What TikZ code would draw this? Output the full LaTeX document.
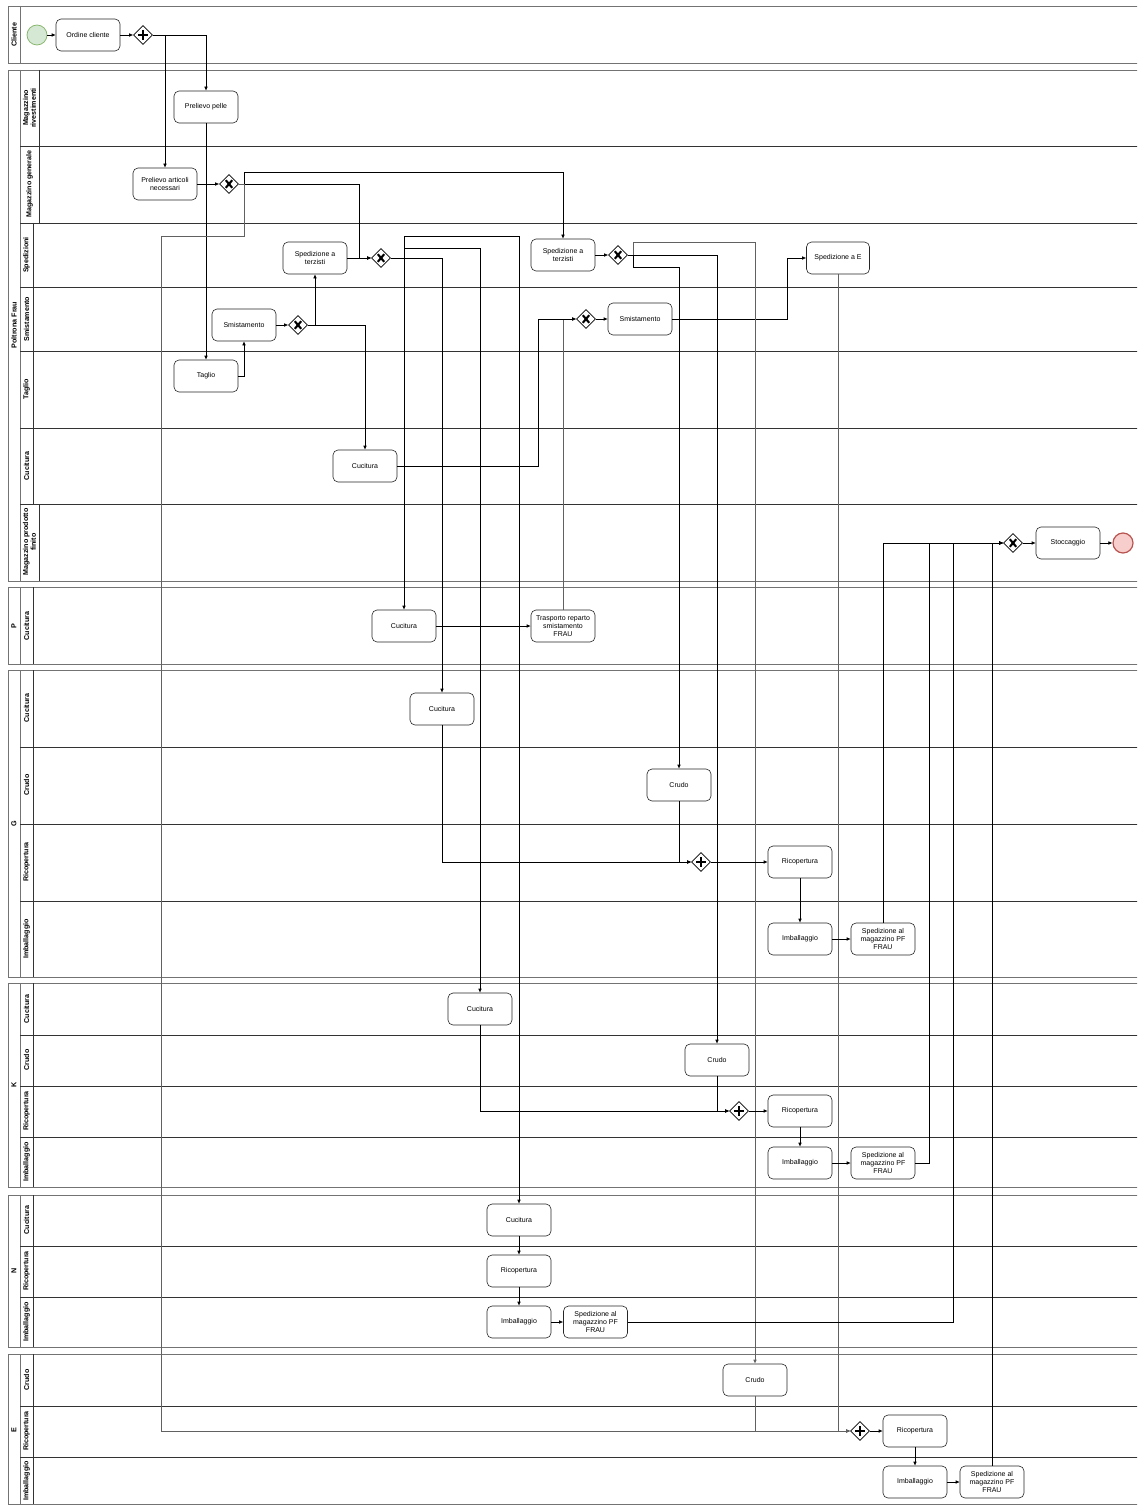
\documentclass[tikz,border=0pt]{standalone}
\usepackage{fontspec}
\setmainfont{Liberation Sans}
\usetikzlibrary{shapes.geometric,arrows.meta}
\begin{document}
\begin{tikzpicture}[x=1pt,y=-1pt,
  pool/.style={draw=black!55,line width=0.9pt},
  lane/.style={draw=black!80,line width=0.7pt},
  poollbl/.style={rotate=90,font=\bfseries\fontsize{7.2}{8}\selectfont,align=center},
  lanelbl/.style={rotate=90,font=\bfseries\fontsize{7.1}{7.8}\selectfont,align=center},
  task/.style={draw=black!85,rounded corners=5pt,minimum width=64pt,minimum height=32pt,align=center,inner sep=1pt,font=\fontsize{7}{8}\selectfont,line width=0.6pt,fill=white},
  gw/.style={draw,diamond,minimum width=19pt,minimum height=19pt,inner sep=0pt,line width=0.6pt,fill=white},
  flow/.style={-{Latex[length=4pt,width=3.6pt]},line width=0.6pt},
  gflow/.style={flow,draw=black!62,line width=0.7pt},
  xmark/.pic={\draw[line width=2.1pt] (-3.2,-3.8)--(3.2,3.8) (-3.2,3.8)--(3.2,-3.8);},
  pmark/.pic={\draw[line width=2.3pt] (0,-5)--(0,5) (-5,0)--(5,0);}
]
\useasboundingbox (0,0) rectangle (1137,1506);
\fill[white] (0,0) rectangle (1137,1506);
\clip (0,0) rectangle (1137,1506);

% ---------------- pools and lanes ----------------
% Cliente
\draw[pool] (8,6) rectangle (1150,63);
\draw[pool] (20,6)--(20,63);
\node[poollbl] (plCliente) at (14,35) {Cliente};

% Poltrona Frau
\draw[pool] (8,70) rectangle (1150,581);
\draw[pool] (20,70)--(20,581);
\node[poollbl] (plFrau) at (14,325) {Poltrona Frau};
\foreach \yy in {146,223,287,351,428,504} \draw[lane] (20,\yy)--(1150,\yy);
\draw[lane] (39,70)--(39,223);
\draw[lane] (33,223)--(33,504);
\draw[lane] (39,504)--(39,581);
\node[lanelbl] (l1) at (29.5,108) {Magazzino\\rivestimenti};
\node[lanelbl] (l2) at (29.5,184) {Magazzino generale};
\node[lanelbl] (l3) at (26.5,255) {Spedizioni};
\node[lanelbl] (l4) at (26.5,319) {Smistamento};
\node[lanelbl] (l5) at (26.5,389) {Taglio};
\node[lanelbl] (l6) at (26.5,466) {Cucitura};
\node[lanelbl] (l7) at (29.5,542) {Magazzino prodotto\\finito};

% P
\draw[pool] (8,587) rectangle (1150,664);
\draw[pool] (20,587)--(20,664);
\draw[lane] (33,587)--(33,664);
\node[poollbl] (plP) at (14,626) {P};
\node[lanelbl] (lp1) at (26.5,626) {Cucitura};

% G
\draw[pool] (8,670) rectangle (1150,977);
\draw[pool] (20,670)--(20,977);
\foreach \yy in {747,824,901} \draw[lane] (20,\yy)--(1150,\yy);
\draw[lane] (33,670)--(33,977);
\node[poollbl] (plG) at (14,824) {G};
\node[lanelbl] (lg1) at (26.5,708) {Cucitura};
\node[lanelbl] (lg2) at (26.5,785) {Crudo};
\node[lanelbl] (lg3) at (26.5,862) {Ricopertura};
\node[lanelbl] (lg4) at (26.5,939) {Imballaggio};

% K
\draw[pool] (8,983) rectangle (1150,1187);
\draw[pool] (20,983)--(20,1187);
\foreach \yy in {1035,1086,1137} \draw[lane] (20,\yy)--(1150,\yy);
\draw[lane] (33,983)--(33,1187);
\node[poollbl] (plK) at (14,1085) {K};
\node[lanelbl] (lk1) at (26.5,1009) {Cucitura};
\node[lanelbl] (lk2) at (26.5,1060) {Crudo};
\node[lanelbl] (lk3) at (26.5,1111) {Ricopertura};
\node[lanelbl] (lk4) at (26.5,1162) {Imballaggio};

% N
\draw[pool] (8,1195) rectangle (1150,1347);
\draw[pool] (20,1195)--(20,1347);
\foreach \yy in {1246,1297} \draw[lane] (20,\yy)--(1150,\yy);
\draw[lane] (33,1195)--(33,1347);
\node[poollbl] (plN) at (14,1271) {N};
\node[lanelbl] (ln1) at (26.5,1220) {Cucitura};
\node[lanelbl] (ln2) at (26.5,1271) {Ricopertura};
\node[lanelbl] (ln3) at (26.5,1322) {Imballaggio};

% E
\draw[pool] (8,1354) rectangle (1150,1504);
\draw[pool] (20,1354)--(20,1504);
\foreach \yy in {1406,1457} \draw[lane] (20,\yy)--(1150,\yy);
\draw[lane] (33,1354)--(33,1504);
\node[poollbl] (plE) at (14,1430) {E};
\node[lanelbl] (le1) at (26.5,1380) {Crudo};
\node[lanelbl] (le2) at (26.5,1431) {Ricopertura};
\node[lanelbl] (le3) at (26.5,1481) {Imballaggio};

% ---------------- nodes ----------------
\node[circle,draw={rgb,255:red,130;green,179;blue,102},fill={rgb,255:red,213;green,232;blue,212},minimum size=20pt,inner sep=0pt,line width=0.7pt] (st) at (37,35) {};
\node[task] (oc) at (88,35) {Ordine cliente};
\node[gw] (gwA) at (143,35) {}; \pic at (gwA) {pmark};
\node[task] (pp) at (206,107) {Prelievo pelle};
\node[task] (pa) at (165,184) {Prelievo articoli\\necessari};
\node[gw] (gw1) at (229,184) {}; \pic at (gw1) {xmark};
\node[task] (st1) at (315,258) {Spedizione a\\terzisti};
\node[gw] (gw2) at (381,258) {}; \pic at (gw2) {xmark};
\node[task] (sm1) at (244,325) {Smistamento};
\node[gw] (gw3) at (298,325) {}; \pic at (gw3) {xmark};
\node[task] (tg) at (206,376) {Taglio};
\node[task] (cf) at (365,466) {Cucitura};
\node[task] (st2) at (563,255) {Spedizione a\\terzisti};
\node[gw] (gw4) at (618,255) {}; \pic at (gw4) {xmark};
\node[gw] (gw5) at (586,319) {}; \pic at (gw5) {xmark};
\node[task] (sm2) at (640,319) {Smistamento};
\node[task,minimum width=63pt] (se) at (838,258) {Spedizione a E};
\node[gw] (gw6) at (1013,543) {}; \pic at (gw6) {xmark};
\node[task] (sto) at (1068,543) {Stoccaggio};
\node[circle,draw={rgb,255:red,184;green,84;blue,80},fill={rgb,255:red,248;green,206;blue,204},minimum size=20pt,inner sep=0pt,line width=1.2pt] (en) at (1123,543) {};

\node[task] (pc) at (404,626) {Cucitura};
\node[task] (tr) at (563,626) {Trasporto reparto\\smistamento\\FRAU};

\node[task] (gc) at (442,709) {Cucitura};
\node[task] (gcr) at (679,785) {Crudo};
\node[gw] (gwG) at (701,862) {}; \pic at (gwG) {pmark};
\node[task] (gr) at (800,862) {Ricopertura};
\node[task] (gi) at (800,939) {Imballaggio};
\node[task] (gs) at (883,939) {Spedizione al\\magazzino PF\\FRAU};

\node[task] (kc) at (480,1009) {Cucitura};
\node[task] (kcr) at (717,1060) {Crudo};
\node[gw] (gwK) at (739,1111) {}; \pic at (gwK) {pmark};
\node[task] (kr) at (800,1111) {Ricopertura};
\node[task] (ki) at (800,1163) {Imballaggio};
\node[task] (ks) at (883,1163) {Spedizione al\\magazzino PF\\FRAU};

\node[task] (nc) at (519,1220) {Cucitura};
\node[task] (nr) at (519,1271) {Ricopertura};
\node[task] (ni) at (519,1322) {Imballaggio};
\node[task] (ns) at (595.5,1322) {Spedizione al\\magazzino PF\\FRAU};

\node[task] (ec) at (755,1380) {Crudo};
\node[gw] (gwE) at (860,1431) {}; \pic at (gwE) {pmark};
\node[task] (er) at (915,1431) {Ricopertura};
\node[task] (ei) at (915,1482) {Imballaggio};
\node[task] (es) at (992,1482) {Spedizione al\\magazzino PF\\FRAU};

% ---------------- connectors ----------------
\draw[flow] (st.east) -- (oc.west);
\draw[flow] (oc.east) -- (gwA.west);
\draw[flow] (gwA.east) -| (pp.north);
\draw[flow] (gwA.east) -| (pa.north);
\draw[flow] (pp.south) -- (tg.north);
\draw[flow] (tg.east) -| (sm1.south);
\draw[flow] (sm1.east) -- (gw3.west);
\draw[flow] (gw3.east) -| (st1.south);
\draw[flow] (gw3.east) -| (cf.north);
\draw[flow] (st1.east) -- (gw2.west);
\draw[flow] (pa.east) -- (gw1.west);
\draw[flow] (gw1.east) -| (359,258) -- (gw2.west);
\draw[flow] (gw1.east) -- (244,184) -- (244,172) -| (st2.north);
\draw[gflow] (gw1.east) -- (244,184) -- (244,236) -- (161,236) |- (gwE.west);
\draw[flow] (gw2.east) -- (404,258) -- (pc.north);
\draw[flow] (gw2.east) -- (404,258) -- (404,236) -| (nc.north);
\draw[flow] (gw2.east) -- (404,258) -- (404,248) -| (kc.north);
\draw[flow] (gw2.east) -| (gc.north);
\draw[flow] (pc.east) -- (tr.west);
\draw[gflow] (tr.north) |- (gw5.west);
\draw[flow] (cf.east) -- (538,466) |- (gw5.west);
\draw[flow] (gw5.east) -- (sm2.west);
\draw[flow] (sm2.east) -- (787,319) |- (se.west);
\draw[flow] (st2.east) -- (gw4.west);
\draw[gflow] (gw4.east) -- (633,255) -- (633,242) -| (ec.north);
\draw[flow] (gw4.east) -| (kcr.north);
\draw[flow] (gw4.east) -- (633,255) -- (633,267) -| (gcr.north);
\draw[gflow] (se.south) |- (gwE.west);
\draw[gflow] (ec.south) |- (gwE.west);
% G
\draw[flow] (gc.south) |- (gwG.west);
\draw[flow] (gcr.south) |- (gwG.west);
\draw[flow] (gwG.east) -- (gr.west);
\draw[flow] (gr.south) -- (gi.north);
\draw[flow] (gi.east) -- (gs.west);
\draw[flow] (gs.north) |- (gw6.west);
% K
\draw[flow] (kc.south) |- (gwK.west);
\draw[flow] (kcr.south) |- (gwK.west);
\draw[flow] (gwK.east) -- (kr.west);
\draw[flow] (kr.south) -- (ki.north);
\draw[flow] (ki.east) -- (ks.west);
\draw[flow] (ks.east) -- (929,1163) |- (gw6.west);
% N
\draw[flow] (nc.south) -- (nr.north);
\draw[flow] (nr.south) -- (ni.north);
\draw[flow] (ni.east) -- (ns.west);
\draw[flow] (ns.east) -- (953,1322) |- (gw6.west);
% E
\draw[flow] (gwE.east) -- (er.west);
\draw[flow] (er.south) -- (ei.north);
\draw[flow] (ei.east) -- (es.west);
\draw[flow] (es.north) |- (gw6.west);
% end
\draw[flow] (gw6.east) -- (sto.west);
\draw[flow] (sto.east) -- (en.west);
\end{tikzpicture}
\end{document}
